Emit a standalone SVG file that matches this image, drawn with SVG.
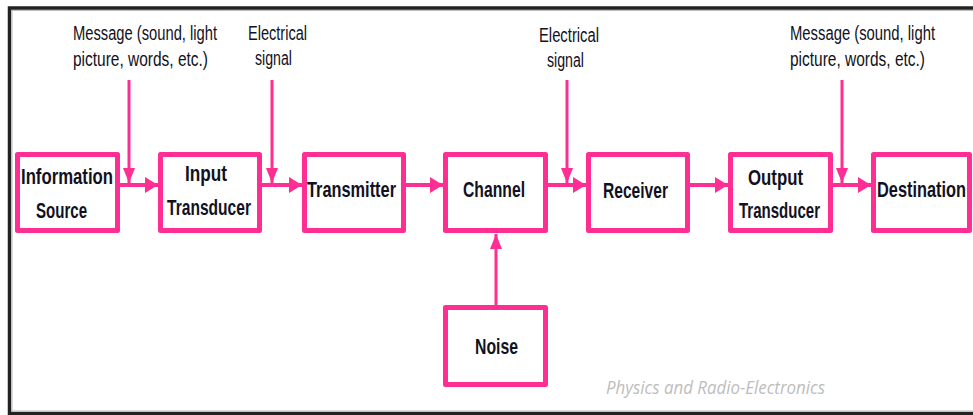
<svg xmlns="http://www.w3.org/2000/svg" width="973" height="415" viewBox="0 0 973 415">
<defs>
<style>
.box{fill:#fff;stroke:#ff2e93;stroke-width:5;stroke-linejoin:round}
.lbl{font-family:"Liberation Sans",Arial,sans-serif;font-weight:bold;font-size:22px;fill:#111122}
.ann{font-family:"Liberation Sans",Arial,sans-serif;font-size:20px;fill:#111122}
.h{stroke:#ff2e93;stroke-width:4;fill:none}
.v{stroke:#ff2e93;stroke-width:3;fill:none}
.wm{font-family:"Open Sans","Liberation Sans",sans-serif;font-style:italic;font-size:19px;fill:#bdbdbd}
</style>
<marker id="ah" markerUnits="userSpaceOnUse" markerWidth="14" markerHeight="18" refX="13" refY="8" orient="auto">
<polygon points="0,0 13,8 0,16" fill="#ff2e93"/>
</marker>
<marker id="av" markerUnits="userSpaceOnUse" markerWidth="16" markerHeight="14" refX="15" refY="6" orient="auto">
<polygon points="0,0 15,6 0,12" fill="#ff2e93"/>
</marker>
</defs>
<rect x="0" y="0" width="973" height="415" fill="#fff"/>
<rect x="9.5" y="8" width="990" height="405.5" fill="none" stroke="#222" stroke-width="3.5"/>
<rect x="12" y="10.5" width="990" height="400.5" fill="none" stroke="#bbb" stroke-width="1"/>

<g id="connectors">
<line class="h" x1="120" y1="185" x2="158" y2="185" marker-end="url(#ah)"/>
<line class="h" x1="262" y1="185" x2="302" y2="185" marker-end="url(#ah)"/>
<line class="h" x1="406" y1="185" x2="443" y2="185" marker-end="url(#ah)"/>
<line class="h" x1="548" y1="185" x2="586" y2="185" marker-end="url(#ah)"/>
<line class="h" x1="690" y1="185" x2="728" y2="185" marker-end="url(#ah)"/>
<line class="h" x1="833" y1="185" x2="871" y2="185" marker-end="url(#ah)"/>
<line class="v" x1="129" y1="80" x2="129" y2="183" marker-end="url(#av)"/>
<line class="v" x1="272" y1="80" x2="272" y2="183" marker-end="url(#av)"/>
<line class="v" x1="567" y1="80" x2="567" y2="183" marker-end="url(#av)"/>
<line class="v" x1="842" y1="80" x2="842" y2="183" marker-end="url(#av)"/>
<line class="v" x1="496" y1="305" x2="496" y2="234" marker-end="url(#av)"/>
</g>

<g id="info-source">
<rect class="box" x="17.5" y="154.5" width="100" height="76"/>
<text class="lbl" x="21" y="184" textLength="92" lengthAdjust="spacingAndGlyphs">Information</text>
<text class="lbl" x="36" y="218" textLength="51" lengthAdjust="spacingAndGlyphs">Source</text>
</g>
<g id="input-transducer">
<rect class="box" x="160.5" y="154.5" width="99" height="76"/>
<text class="lbl" x="185" y="181" textLength="42" lengthAdjust="spacingAndGlyphs">Input</text>
<text class="lbl" x="167" y="215" textLength="84" lengthAdjust="spacingAndGlyphs">Transducer</text>
</g>
<g id="transmitter">
<rect class="box" x="304.5" y="154.5" width="99" height="76"/>
<text class="lbl" x="307" y="197" textLength="89" lengthAdjust="spacingAndGlyphs">Transmitter</text>
</g>
<g id="channel">
<rect class="box" x="445.5" y="154.5" width="100" height="76"/>
<text class="lbl" x="463" y="197" textLength="62" lengthAdjust="spacingAndGlyphs">Channel</text>
</g>
<g id="receiver">
<rect class="box" x="588.5" y="154.5" width="99" height="76"/>
<text class="lbl" x="603" y="198" textLength="65" lengthAdjust="spacingAndGlyphs">Receiver</text>
</g>
<g id="output-transducer">
<rect class="box" x="730.5" y="154.5" width="100" height="76"/>
<text class="lbl" x="748" y="185" textLength="55" lengthAdjust="spacingAndGlyphs">Output</text>
<text class="lbl" x="739" y="218" textLength="81" lengthAdjust="spacingAndGlyphs">Transducer</text>
</g>
<g id="destination">
<rect class="box" x="873.5" y="154.5" width="96" height="76"/>
<text class="lbl" x="877" y="197" textLength="89" lengthAdjust="spacingAndGlyphs">Destination</text>
</g>
<g id="noise">
<rect class="box" x="445.5" y="307.5" width="100" height="77"/>
<text class="lbl" x="475" y="354" textLength="43" lengthAdjust="spacingAndGlyphs">Noise</text>
</g>

<g id="labels">
<text class="ann" x="73" y="40" textLength="144" lengthAdjust="spacingAndGlyphs">Message (sound, light</text>
<text class="ann" x="73" y="66" textLength="135" lengthAdjust="spacingAndGlyphs">picture, words, etc.)</text>
<text class="ann" x="248" y="40" textLength="59" lengthAdjust="spacingAndGlyphs">Electrical</text>
<text class="ann" x="255" y="65" textLength="37" lengthAdjust="spacingAndGlyphs">signal</text>
<text class="ann" x="539" y="42" textLength="60" lengthAdjust="spacingAndGlyphs">Electrical</text>
<text class="ann" x="547" y="67" textLength="37" lengthAdjust="spacingAndGlyphs">signal</text>
<text class="ann" x="790" y="40" textLength="145" lengthAdjust="spacingAndGlyphs">Message (sound, light</text>
<text class="ann" x="790" y="66" textLength="135" lengthAdjust="spacingAndGlyphs">picture, words, etc.)</text>
<text class="wm" x="606" y="394" textLength="219" lengthAdjust="spacingAndGlyphs">Physics and Radio-Electronics</text>
</g>
</svg>
